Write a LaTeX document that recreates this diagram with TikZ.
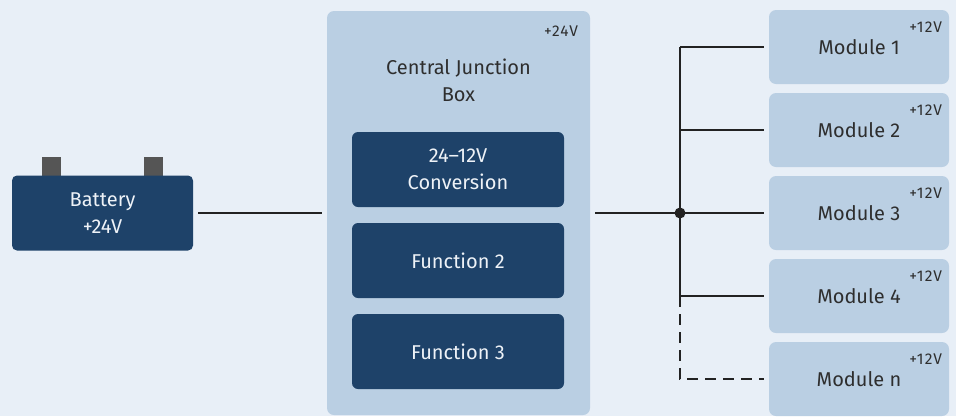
\documentclass[tikz,border=0pt]{standalone}
\usepackage{fontspec}
\setmainfont{Fira Sans}
\newfontfamily\voltfont[LetterSpace=7]{Fira Sans}
\definecolor{bg}{HTML}{E8EFF7}
\definecolor{lightbox}{HTML}{BACFE3}
\definecolor{darkbox}{HTML}{1E4269}
\definecolor{term}{HTML}{555555}
\definecolor{wirec}{HTML}{222222}
\definecolor{darktext}{HTML}{2E2E2E}
\definecolor{lighttext}{HTML}{EEF2F7}
\tikzset{
  lbox/.style={fill=lightbox, rounded corners=7pt, inner sep=0pt, align=center,
    text=darktext, font=\fontsize{20}{27}\selectfont},
  dbox/.style={fill=darkbox, rounded corners=6pt, inner sep=0pt, align=center,
    text=lighttext, font=\fontsize{20}{27}\selectfont},
  termbox/.style={fill=term, inner sep=0pt, minimum width=19pt, minimum height=19pt},
  volt/.style={text=darktext, font=\voltfont\fontsize{15.5}{17}\selectfont, inner sep=0pt, anchor=base east},
  wire/.style={draw=wirec, line width=1.8pt},
  dashwire/.style={draw=wirec, line width=1.8pt, dash pattern=on 11pt off 7pt},
}
\begin{document}
\begin{tikzpicture}[x=1pt,y=-1pt]
\useasboundingbox[fill=bg] (0,0) rectangle (956,416);
% battery
\node[termbox] (t1) at (51.5,166.5) {};
\node[termbox] (t2) at (153.5,166.5) {};
\node[dbox, rounded corners=5pt, minimum width=181pt, minimum height=75pt] (bat) at (102.5,213) {Battery\\+24V};
% central junction box
\node[lbox, minimum width=263pt, minimum height=404pt] (cjb) at (458.5,213) {};
\node[text=darktext, font=\fontsize{20}{27}\selectfont, align=center, inner sep=0pt] (cjbt) at (458.5,80) {Central Junction\\Box};
\node[volt] (cjbv) at ([xshift=-12pt,yshift=-26pt]cjb.north east) {+24V};
\node[dbox, minimum width=212pt, minimum height=75pt] (f1) at (458,169.5) {24–12V\\Conversion};
\node[dbox, minimum width=212pt, minimum height=75pt] (f2) at (458,260.5) {Function 2};
\node[dbox, minimum width=212pt, minimum height=75pt] (f3) at (458,351.5) {Function 3};
% modules
\foreach \n/\t/\y in {m1/Module 1/47, m2/Module 2/130, m3/Module 3/213, m4/Module 4/296, mn/Module n/379}{
  \node[lbox, minimum width=180pt, minimum height=74pt] (\n) at (859,\y) {\t};
  \node[volt] (\n v) at ([xshift=-7pt,yshift=-23pt]\n.north east) {+12V};
}
% wires
\coordinate (bus) at (680,213);
\draw[wire, shorten <=5pt, shorten >=5pt] (bat.east) -- (cjb.west);
\draw[wire, shorten <=5pt] (cjb.east) -- (bus);
\draw[wire] (bus |- m1) -- (bus |- m4);
\foreach \n in {m1,m2,m3,m4}{
  \draw[wire, shorten >=5pt] (bus |- \n) -- (\n.west);
}
\draw[dashwire, shorten >=5pt] (bus |- m4) -- (bus |- mn) -- (mn.west);
\fill[wirec] (bus) circle (5.5pt);
\end{tikzpicture}
\end{document}
